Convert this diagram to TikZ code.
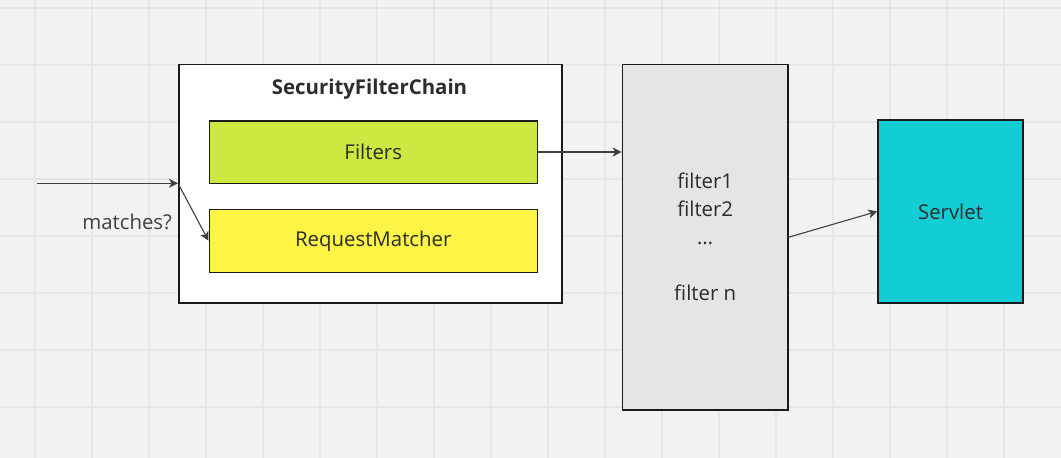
\documentclass[tikz,border=0pt]{standalone}
\usepackage{fontspec}
\setmainfont{Open Sans}
\usetikzlibrary{positioning,arrows.meta}
\definecolor{boardbg}{HTML}{F2F2F2}
\definecolor{gridln}{HTML}{E6E6E6}
\definecolor{filtgreen}{HTML}{CFE741}
\definecolor{matchyellow}{HTML}{FEF445}
\definecolor{servcyan}{HTML}{12CDD4}
\definecolor{colgray}{HTML}{E5E5E5}
\definecolor{inkdark}{HTML}{1A1A1A}
\definecolor{linkgray}{HTML}{404040}

\begin{document}
\begin{tikzpicture}[x=1pt,y=-1pt]

\newcommand{\gstep}{57}
\tikzstyle{every node}=[font=\fontsize{20.4}{28}\selectfont, text=inkdark!92];
\tikzstyle{box}=[draw=inkdark, line width=1.5pt, inner sep=0pt, anchor=north west];
\tikzstyle{link}=[-{Stealth[length=9pt,width=9pt,inset=2.5pt]}, linkgray, line width=1.1pt];

  % board
  \fill[boardbg] (0,0) rectangle (1061,458);
  \useasboundingbox (0,0) rectangle (1061,458);
    \foreach \k in {0,...,17}{
      \draw[gridln, line width=1.5pt] ({35+\gstep*\k},0) -- ({35+\gstep*\k},458);
    }
    \foreach \k in {0,...,7}{
      \draw[gridln, line width=1.5pt] (0,{8+\gstep*\k}) -- (1061,{8+\gstep*\k});
    }

  \node(chain)[box, fill=white, minimum width=383pt, minimum height=238.5pt] at (178,63.5) {};
  \node(title)[font=\fontsize{20.4}{28}\selectfont\bfseries] at (369.5,89.5) {SecurityFilterChain};
  \node(filters)[box, fill=filtgreen, minimum width=328pt, minimum height=62.5pt] at (208.5,120) {};
  \node at (filters.center) {Filters};
  \node(matcher)[box, fill=matchyellow, minimum width=328pt, minimum height=63pt] at (208.5,208.5) {};
  \node at (matcher.center) {RequestMatcher};

  \node(column)[box, fill=colgray, minimum width=165.5pt, minimum height=345.5pt] at (621.7,63.7) {};
  \node(list)[align=center] at (column.center) {filter1\\filter2\\\ldots\\ \\filter n};

  \node(servlet)[box, fill=servcyan, minimum width=145pt, minimum height=182.7pt] at (877.3,119.3) {};
  \node at (servlet.center) {Servlet};

  \coordinate(src) at (37,183.3);
  \coordinate(split) at (178,183.3);
  \node(ask)[anchor=east, text=linkgray] at (175.5,222) {matches?};

\draw[link] (src) -- (split);
\draw[link] (split) -- (matcher.west);
\draw[link] (filters.east) -- (filters.east -| column.west);
\draw[link] (column.east) -- (servlet.west);

\end{tikzpicture}
\end{document}
